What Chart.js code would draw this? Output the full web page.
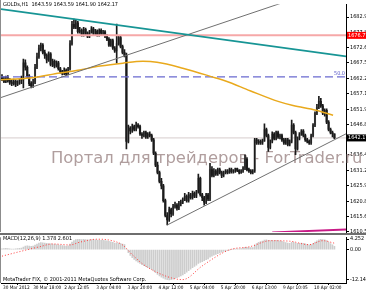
<!DOCTYPE html>
<html>
<head>
<meta charset="utf-8">
<script src="https://cdn.jsdelivr.net/npm/chart.js@4.4.0/dist/chart.umd.min.js"></script>
<style>
html, body { margin: 0; padding: 0; background: #fff; }
#wrap { position: relative; width: 366px; height: 293px; overflow: hidden; background: #fff; }
#priceChart { position: absolute; left: 0; top: 0; }
#macdChart { position: absolute; left: 0; top: 233px; }
</style>
</head>
<body>
<div id="wrap">
  <canvas id="priceChart" width="366" height="240"></canvas>
  <canvas id="macdChart" width="366" height="60"></canvas>
</div>
<script>
// texts
const symbolTitle = 'GOLDs,H1  1643.59 1643.59 1641.90 1642.17';
const macdTitle = 'MACD(12,26,9) 1.378 2.601';
const footerText = 'MetaTrader FIX, \u00a9 2001-2011 MetaQuotes Software Corp.';
const watermark = 'Портал для трейдеров - ForTrader.ru';

// H1 candles, index = bar number
const open = [1662.5,1662.0,1661.2,1662.5,1661.5,1661.0,1660.5,1661.3,1660.2,1660.8,
  1661.5,1662.0,1667.5,1666.0,1663.0,1660.5,1659.8,1661.0,1666.0,1669.5,
  1672.5,1673.5,1671.0,1670.0,1668.5,1670.5,1667.0,1668.0,1666.5,1667.5,
  1665.5,1664.5,1664.0,1665.0,1663.8,1665.5,1674.0,1680.5,1679.5,1681.0,
  1678.0,1678.5,1677.0,1678.8,1677.5,1676.5,1678.0,1679.0,1677.5,1678.2,
  1677.0,1678.5,1677.5,1678.0,1676.5,1675.5,1673.5,1675.0,1672.5,1671.5,
  1674.0,1676.0,1673.0,1671.0,1670.0,1641.0,1645.5,1644.5,1646.0,1645.0,
  1646.5,1646.0,1643.5,1643.0,1644.0,1642.5,1643.5,1643.0,1641.5,1637.0,
  1633.0,1630.5,1627.5,1626.0,1621.0,1616.0,1614.5,1618.0,1616.5,1619.0,
  1619.5,1618.5,1620.0,1620.5,1621.5,1622.5,1621.0,1623.0,1622.0,1623.5,
  1622.5,1624.0,1628.5,1623.0,1622.0,1620.5,1623.0,1621.5,1631.5,1629.5,
  1631.0,1630.0,1631.5,1630.5,1629.5,1630.5,1631.0,1630.5,1631.5,1630.8,
  1631.0,1631.8,1631.2,1630.5,1631.0,1632.0,1635.0,1631.5,1631.0,1630.5,
  1631.0,1641.5,1640.5,1641.0,1640.5,1641.2,1645.0,1643.0,1639.0,1641.0,
  1643.5,1642.0,1644.0,1642.5,1643.0,1641.5,1640.5,1641.5,1640.0,1641.0,
  1646.5,1644.0,1638.5,1642.0,1643.5,1644.5,1643.0,1641.5,1641.0,1640.5,
  1643.0,1646.5,1650.5,1652.5,1654.5,1653.0,1650.5,1651.5,1647.5,1645.0,
  1644.0,1643.59];
const high = [1663.5,1662.8,1663.0,1663.2,1662.2,1661.8,1662.0,1661.8,1661.5,1662.0,
  1663.0,1668.8,1668.5,1666.5,1663.5,1661.2,1662.0,1667.0,1670.8,1673.5,
  1674.2,1674.0,1671.8,1670.5,1671.2,1671.0,1668.8,1668.5,1668.2,1668.0,
  1666.0,1665.0,1665.8,1665.5,1666.0,1675.0,1681.5,1682.3,1681.8,1681.5,
  1679.5,1679.0,1679.5,1679.2,1678.0,1678.5,1679.7,1679.5,1678.8,1678.6,
  1679.0,1679.0,1678.5,1678.4,1677.0,1676.0,1675.5,1675.5,1673.0,1680.6,
  1676.8,1676.5,1673.5,1672.0,1670.8,1646.5,1646.0,1646.8,1646.5,1647.5,
  1647.0,1646.5,1644.0,1644.5,1644.5,1644.0,1644.2,1643.5,1642.0,1637.5,
  1634.0,1631.0,1628.5,1626.5,1621.5,1617.0,1618.8,1618.5,1619.8,1620.5,
  1620.0,1620.8,1621.2,1622.0,1623.5,1623.0,1623.8,1623.5,1624.2,1624.0,
  1624.5,1630.0,1629.0,1623.5,1622.5,1623.5,1623.5,1633.6,1632.5,1631.8,
  1631.5,1632.0,1632.0,1631.0,1631.0,1631.5,1631.5,1632.0,1632.0,1631.5,
  1632.0,1632.0,1631.5,1631.5,1632.5,1636.5,1635.5,1632.0,1631.5,1631.5,
  1642.0,1642.0,1641.6,1641.5,1641.8,1646.9,1645.5,1643.5,1641.5,1644.2,
  1644.0,1644.5,1644.5,1643.5,1643.5,1642.0,1642.0,1642.0,1641.5,1648.2,
  1647.0,1644.5,1642.5,1644.0,1645.0,1645.0,1643.5,1642.0,1641.5,1643.5,
  1647.0,1651.0,1653.5,1656.2,1655.5,1653.5,1652.0,1652.0,1648.0,1645.5,
  1644.5,1643.59];
const low = [1661.5,1660.8,1660.8,1661.0,1660.2,1659.8,1660.0,1659.5,1659.8,1660.2,
  1660.5,1659.0,1665.0,1662.5,1659.8,1659.0,1659.2,1660.5,1665.5,1669.0,
  1671.5,1670.5,1669.0,1667.5,1668.0,1666.5,1666.2,1665.8,1666.0,1665.0,
  1664.0,1663.4,1663.5,1663.2,1663.4,1665.0,1673.5,1679.0,1679.0,1677.5,
  1677.5,1676.5,1676.5,1677.0,1676.0,1676.0,1677.5,1677.0,1677.0,1676.5,
  1676.5,1677.0,1677.0,1676.0,1675.0,1673.0,1673.0,1672.0,1671.0,1667.4,
  1673.5,1672.5,1670.5,1669.5,1638.5,1640.5,1643.5,1644.0,1644.5,1644.5,
  1645.5,1643.0,1642.0,1642.5,1642.0,1642.0,1642.5,1641.0,1636.5,1632.5,
  1630.0,1627.0,1625.0,1620.5,1615.5,1612.8,1614.0,1615.5,1616.0,1618.5,
  1617.8,1618.0,1619.2,1620.0,1621.0,1620.5,1620.5,1621.5,1621.5,1622.0,
  1622.0,1623.5,1622.5,1621.0,1619.5,1620.0,1621.0,1621.0,1629.0,1629.0,
  1629.5,1629.5,1630.0,1628.8,1629.0,1630.0,1630.0,1630.2,1630.3,1630.3,
  1630.5,1630.8,1630.0,1630.2,1630.5,1631.5,1631.0,1630.5,1630.0,1630.0,
  1630.5,1640.0,1640.0,1640.0,1640.0,1641.0,1642.5,1637.6,1638.5,1640.5,
  1641.5,1641.5,1642.0,1641.8,1641.0,1640.0,1640.0,1639.5,1639.5,1640.5,
  1643.5,1636.5,1638.0,1641.5,1643.0,1642.5,1641.0,1640.5,1640.0,1640.0,
  1642.5,1646.0,1650.0,1652.0,1652.5,1650.0,1649.5,1647.0,1644.5,1643.5,
  1642.5,1641.90];
const close = [1662.0,1661.2,1662.5,1661.5,1661.0,1660.5,1661.3,1660.2,1660.8,1661.5,
  1662.0,1667.5,1666.0,1663.0,1660.5,1659.8,1661.0,1666.0,1669.5,1672.5,
  1673.5,1671.0,1670.0,1668.5,1670.5,1667.0,1668.0,1666.5,1667.5,1665.5,
  1664.5,1664.0,1665.0,1663.8,1665.5,1674.0,1680.5,1679.5,1681.0,1678.0,
  1678.5,1677.0,1678.8,1677.5,1676.5,1678.0,1679.0,1677.5,1678.2,1677.0,
  1678.5,1677.5,1678.0,1676.5,1675.5,1673.5,1675.0,1672.5,1671.5,1674.0,
  1676.0,1673.0,1671.0,1670.0,1641.0,1645.5,1644.5,1646.0,1645.0,1646.5,
  1646.0,1643.5,1643.0,1644.0,1642.5,1643.5,1643.0,1641.5,1637.0,1633.0,
  1630.5,1627.5,1626.0,1621.0,1616.0,1614.5,1618.0,1616.5,1619.0,1619.5,
  1618.5,1620.0,1620.5,1621.5,1622.5,1621.0,1623.0,1622.0,1623.5,1622.5,
  1624.0,1628.5,1623.0,1622.0,1620.5,1623.0,1621.5,1631.5,1629.5,1631.0,
  1630.0,1631.5,1630.5,1629.5,1630.5,1631.0,1630.5,1631.5,1630.8,1631.0,
  1631.8,1631.2,1630.5,1631.0,1632.0,1635.0,1631.5,1631.0,1630.5,1631.0,
  1641.5,1640.5,1641.0,1640.5,1641.2,1645.0,1643.0,1639.0,1641.0,1643.5,
  1642.0,1644.0,1642.5,1643.0,1641.5,1640.5,1641.5,1640.0,1641.0,1646.5,
  1644.0,1638.5,1642.0,1643.5,1644.5,1643.0,1641.5,1641.0,1640.5,1643.0,
  1646.5,1650.5,1652.5,1654.5,1653.0,1650.5,1651.5,1647.5,1645.0,1644.0,
  1643.59,1642.17];

// moving average (bar, price)
const maBars = [-0.5, 14.4, 29.8, 40, 50.4, 62.2, 72.5, 79.7, 93, 110, 115, 127.6, 142, 149.7, 161.5, 170.3];
const maValues = [1661.8, 1662.4, 1664.1, 1665.1, 1666.4, 1667.4, 1668.0, 1667.7, 1665.7, 1662.4, 1661.4, 1658.1, 1654.5, 1653.1, 1651.5, 1649.8];

// MACD main (histogram) per bar
const macd = [0.3,0.4,0.5,0.4,0.3,0.2,0.2,0.3,0.4,0.5,0.6,
  1.0,1.4,1.5,1.4,1.3,1.4,1.8,2.2,2.6,2.8,2.7,2.6,2.5,2.4,
  2.3,2.2,2.1,2.0,1.9,1.7,1.6,1.5,1.4,1.5,2.2,
  3.0,3.6,4.0,4.1,4.1,4.0,4.1,4.0,3.9,3.9,4.0,4.0,3.9,3.8,3.8,3.7,3.7,3.6,3.5,3.3,3.1,2.9,2.6,
  2.6,2.6,2.4,2.2,2.0,
  0.2,-1.2,-2.3,-3.2,-3.9,-4.5,-5.0,-5.5,-6.0,-6.4,-6.8,-7.2,-7.5,-7.9,-8.5,-9.2,-9.9,-10.5,-11.0,-11.4,-11.8,
  -12.0,-12.1,-12.0,-11.8,-11.5,-11.2,-10.9,-10.5,-10.1,-9.6,-9.0,-8.4,-7.8,-7.2,-6.7,-6.2,-5.5,-5.1,-4.8,-4.4,-4.0,-3.7,-3.0,-2.6,-2.2,-1.9,-1.6,-1.3,-1.0,-0.7,-0.5,
  -0.3,-0.1,0.0,0.1,0.2,0.3,0.3,0.4,0.6,0.9,0.9,0.8,0.8,0.8,
  1.8,2.4,2.9,3.2,3.4,3.8,3.9,3.7,3.6,3.7,3.6,3.7,3.6,3.5,3.3,3.0,2.8,2.6,2.5,2.9,3.0,2.5,2.5,2.5,2.6,2.5,2.3,2.1,1.9,
  2.0,2.4,3.0,3.5,3.9,4.1,4.0,3.9,3.6,3.0,2.4,1.9,1.378];
// MACD signal (red dotted)
const signalBars = [0, 9, 19.5, 26, 35, 40, 49, 55.5, 62, 67, 72.5, 80, 88, 93, 103, 113, 118, 127.5, 138, 148, 158, 165, 171];
const signalValues = [-2.6, -0.8, 1.2, 2.3, 1.9, 3.0, 4.2, 3.8, 1.9, -2.0, -5.8, -9.2, -11.5, -12.0, -6.5, -1.5, 0.2, 1.2, 3.6, 3.4, 2.0, 3.6, 2.601];

// drawn objects (bar, price)
const tealLineBars = [-0.51, 176.95];
const tealLinePrices = [1685.6, 1669.7];
const upperLineBars = [-0.51, 176.95];
const upperLinePrices = [1655.8, 1695.0];
const lowerLineBars = [85, 176.95];
const lowerLinePrices = [1612.8, 1643.55];
const magentaBars = [139, 176.95];
const magentaPrices = [1610.3, 1611.3];
const redLevel = 1676.77;
const fiboLevel = 1662.75;
const bidPrice = 1642.17;

// axes
const priceTicks = [1682.95, 1677.85, 1672.60, 1667.50, 1662.25, 1657.15, 1651.90, 1646.80, 1641.55, 1636.45, 1631.20, 1625.95, 1620.85, 1615.60, 1610.50];
const macdTicks = [4.252, 0, -12.145];
const macdTickLabels = ['4.252', '0.00', '-12.145'];
const timeTickBars = [0, 15.5, 31.5, 48, 64, 80, 96, 112, 128, 144, 160];
const timeLabels = ['30 Mar 2012', '30 Mar 18:00', '2 Apr 12:05', '3 Apr 04:00', '3 Apr 20:00', '4 Apr 12:00', '5 Apr 04:00', '5 Apr 20:00', '6 Apr 13:00', '9 Apr 10:05', '10 Apr 02:00'];

const xMin = -0.51, xMax = 176.95;
const smallFamily = "'Liberation Sans Narrow', 'DejaVu Sans Condensed', sans-serif";
const tickFont = { family: smallFamily, size: 5.5 };
const timeFont = { family: smallFamily, size: 4.7 };

function linePoints(xs, ys) {
    return xs.map((x, i) => ({ x: x, y: ys[i] }));
}

function flatLine(price, color, width, dash, order) {
    return {
        type: 'line', data: linePoints([xMin, xMax], [price, price]),
        borderColor: color, borderWidth: width, borderDash: dash || [],
        pointRadius: 0, order: order
    };
}

const priceOverlay = {
    id: 'priceOverlay',
    beforeDatasetsDraw(chart) {
        const ctx = chart.ctx;
        ctx.save();
        ctx.font = '16.4px "DejaVu Sans"';
        ctx.fillStyle = '#b09e9e';
        ctx.fillText(watermark, 51, 163);
        ctx.restore();
    },
    afterDraw(chart) {
        const ctx = chart.ctx, y = chart.scales.y, area = chart.chartArea;
        ctx.save();
        // left border
        ctx.fillStyle = '#8c8c8c';
        ctx.fillRect(0, 0, 1, area.bottom);
        ctx.font = '5.5px ' + smallFamily;
        ctx.textBaseline = 'middle';
        ctx.fillStyle = '#000';
        ctx.fillText(symbolTitle, 3, 5);
        ctx.fillStyle = '#5a5ac8';
        ctx.textAlign = 'right';
        ctx.fillText('50.0', area.right - 1, y.getPixelForValue(fiboLevel) - 3);
        // price tags on the axis
        ctx.textAlign = 'left';
        [[redLevel, '#ff0000'], [bidPrice, '#000000']].forEach(function(t) {
            const py = y.getPixelForValue(t[0]);
            ctx.fillStyle = t[1];
            ctx.fillRect(area.right + 1, py - 3.5, 19, 7);
            ctx.fillStyle = '#fff';
            ctx.fillText(t[0].toFixed(2), area.right + 2, py);
        });
        ctx.restore();
    }
};

new Chart(document.getElementById('priceChart'), {
    type: 'bar',
    data: {
        datasets: [
            { type: 'line', data: linePoints(tealLineBars, tealLinePrices), borderColor: '#179595', borderWidth: 1.8, pointRadius: 0, order: 0 },
            { type: 'line', data: linePoints(upperLineBars, upperLinePrices), borderColor: '#707070', borderWidth: 1, pointRadius: 0, order: 0 },
            { type: 'line', data: linePoints(lowerLineBars, lowerLinePrices), borderColor: '#707070', borderWidth: 1, pointRadius: 0, order: 0 },
            { type: 'line', data: linePoints(magentaBars, magentaPrices), borderColor: '#c81a86', borderWidth: 2, pointRadius: 0, order: 0 },
            { type: 'line', data: linePoints(maBars, maValues), borderColor: '#e9a91c', borderWidth: 1.5, pointRadius: 0, cubicInterpolationMode: 'monotone', order: 0 },
            flatLine(redLevel, '#f6a8a8', 2, null, 0),
            flatLine(fiboLevel, '#6a6ad0', 1.2, [8, 4], 0),
            {
                data: close.map((c, i) => ({ x: i, y: [low[i], high[i]] })),
                backgroundColor: '#1a1a1a', barThickness: 1, grouped: false, order: 1
            },
            {
                data: close.map((c, i) => ({ x: i, y: [open[i], c] })),
                backgroundColor: close.map((c, i) => c >= open[i] ? '#a8a8a8' : '#222'),
                barThickness: 1.5, minBarLength: 1, grouped: false, order: 2
            },
            flatLine(bidPrice, '#d6cccc', 1, null, 3)
        ]
    },
    options: {
        responsive: false,
        animation: false,
        devicePixelRatio: 1,
        events: [],
        layout: { padding: { left: 1, right: 0, top: 0, bottom: 8 } },
        plugins: { legend: { display: false }, tooltip: { enabled: false } },
        scales: {
            x: { type: 'linear', min: xMin, max: xMax, offset: false, display: false },
            y: {
                type: 'linear', position: 'right', min: 1610.43, max: 1687.25,
                afterBuildTicks: s => { s.ticks = priceTicks.map(v => ({ value: v })); },
                afterFit: s => { s.width = 20; },
                grid: { drawOnChartArea: false, drawTicks: true, tickLength: 3, color: '#000' },
                border: { display: true, color: '#000' },
                ticks: { autoSkip: false, padding: 1, font: tickFont, color: '#000', callback: v => v.toFixed(2) }
            }
        }
    },
    plugins: [priceOverlay]
});

const macdOverlay = {
    id: 'macdOverlay',
    afterDraw(chart) {
        const ctx = chart.ctx, area = chart.chartArea;
        ctx.save();
        ctx.fillStyle = '#6e6e6e';
        ctx.fillRect(0, 0, 366, 2);
        ctx.fillStyle = '#8c8c8c';
        ctx.fillRect(0, area.top, 1, area.bottom - area.top);
        ctx.font = '5.5px ' + smallFamily;
        ctx.textBaseline = 'middle';
        ctx.fillStyle = '#000';
        ctx.fillText(macdTitle, 3, 6);
        ctx.fillText(footerText, 3, 47);
        ctx.restore();
    }
};

new Chart(document.getElementById('macdChart'), {
    type: 'bar',
    data: {
        datasets: [
            {
                type: 'line', data: linePoints(signalBars, signalValues), borderColor: '#ff3a3a',
                borderWidth: 1, borderDash: [1, 2], pointRadius: 0, cubicInterpolationMode: 'monotone', order: 0
            },
            {
                data: macd.map((v, i) => ({ x: i, y: v })),
                backgroundColor: '#cdcdcd', barThickness: 1, grouped: false, order: 1
            }
        ]
    },
    options: {
        responsive: false,
        animation: false,
        devicePixelRatio: 1,
        events: [],
        layout: { padding: { left: 1, right: 0, top: 2, bottom: 0 } },
        plugins: { legend: { display: false }, tooltip: { enabled: false } },
        scales: {
            x: {
                type: 'linear', min: xMin, max: xMax, offset: false,
                afterBuildTicks: s => { s.ticks = timeTickBars.map(v => ({ value: v })); },
                afterFit: s => { s.height = 10; },
                grid: { drawOnChartArea: false, drawTicks: true, tickLength: 2, color: '#000' },
                border: { display: true, color: '#000' },
                ticks: {
                    autoSkip: false, maxRotation: 0, align: 'start', labelOffset: 1, padding: 0,
                    font: timeFont, color: '#000', callback: (v, i) => timeLabels[i]
                }
            },
            y: {
                type: 'linear', position: 'right', min: -13.36, max: 4.96,
                afterBuildTicks: s => { s.ticks = macdTicks.map(v => ({ value: v })); },
                afterFit: s => { s.width = 20; },
                grid: { drawOnChartArea: false, drawTicks: true, tickLength: 3, color: '#000' },
                border: { display: true, color: '#000' },
                ticks: { autoSkip: false, padding: 1, font: tickFont, color: '#000', callback: (v, i) => macdTickLabels[i] }
            }
        }
    },
    plugins: [macdOverlay]
});
</script>
</body>
</html>
